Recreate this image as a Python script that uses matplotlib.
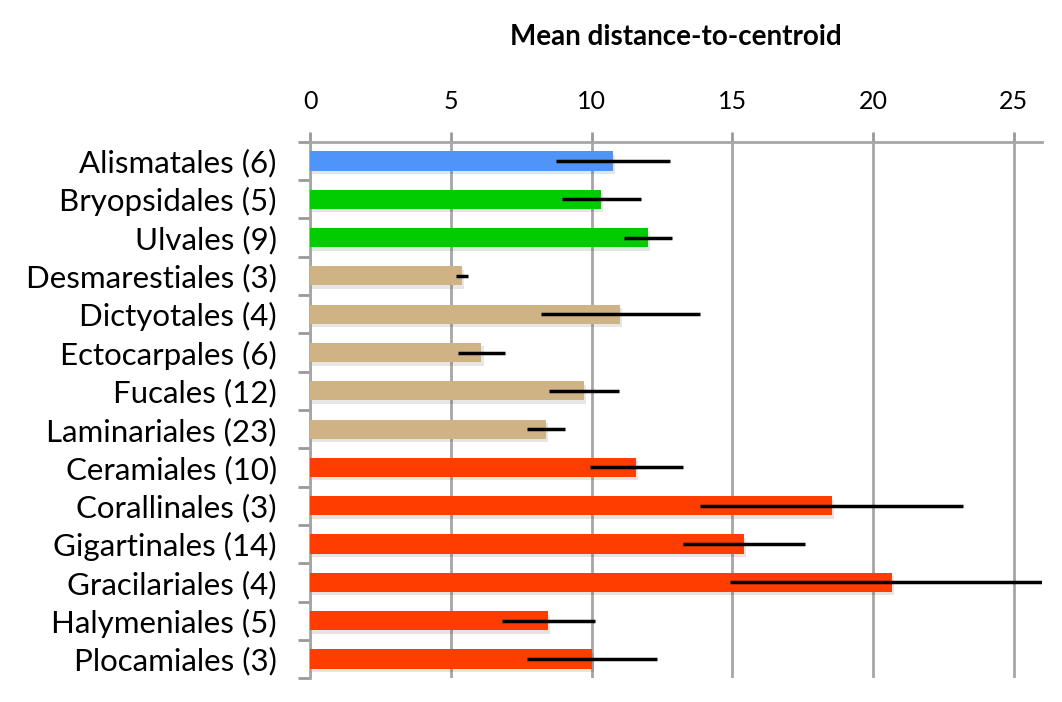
import matplotlib
matplotlib.use('Agg')
import matplotlib.pyplot as plt
import matplotlib.patheffects as pe
import numpy as np

# orders and sample counts, top to bottom
orders = ["Alismatales", "Bryopsidales", "Ulvales", "Desmarestiales", "Dictyotales",
          "Ectocarpales", "Fucales", "Laminariales", "Ceramiales", "Corallinales",
          "Gigartinales", "Gracilariales", "Halymeniales", "Plocamiales"]
counts = [6, 5, 9, 3, 4, 6, 12, 23, 10, 3, 14, 4, 5, 3]
mean_dist = [10.76, 10.35, 12.01, 5.39, 11.02, 6.09, 9.73, 8.39,
             11.59, 18.53, 15.42, 20.66, 8.46, 10.02]
err = [2.03, 1.40, 0.85, 0.22, 2.83, 0.82, 1.25, 0.68,
       1.65, 4.67, 2.16, 5.75, 1.65, 2.30]
groups = ["seagrass", "green", "green", "brown", "brown", "brown", "brown", "brown",
          "red", "red", "red", "red", "red", "red"]
group_colors = {"seagrass": "#4f94f8", "green": "#00cc00",
                "brown": "#cfb384", "red": "#ff3d00"}

plt.rcParams['font.family'] = ['Lato', 'DejaVu Sans']

fig = plt.figure(figsize=(10.62, 7.02), dpi=100)
ax = fig.add_axes([0.292, 0.034, 0.689, 0.764])

y = np.arange(len(orders))
colors = [group_colors[g] for g in groups]
bars = ax.barh(y, mean_dist, height=0.5, color=colors, zorder=3)
for b in bars:
    b.set_path_effects([pe.SimplePatchShadow(offset=(1.5, -2.5), alpha=0.12), pe.Normal()])
ax.errorbar(mean_dist, y, xerr=err, fmt='none', ecolor='black', elinewidth=2.5,
            capsize=0, zorder=4)

ax.set_ylim(len(orders) - 0.5, -0.5)
ax.set_xlim(0, 26)
ax.set_xticks([0, 5, 10, 15, 20, 25])
ax.xaxis.tick_top()
ax.xaxis.set_label_position('top')
ax.set_xlabel("Mean distance-to-centroid", fontsize=20, fontweight='bold', labelpad=32)
ax.tick_params(axis='x', direction='out', length=7, width=2, color='#999999',
               labelsize=18, pad=14)

ax.set_yticks(y)
ax.set_yticklabels([f"{o} ({n})" for o, n in zip(orders, counts)], fontsize=22.5)
ax.set_yticks(np.arange(-0.5, len(orders)), minor=True)
ax.tick_params(axis='y', which='major', length=0, pad=24)
ax.tick_params(axis='y', which='minor', direction='out', length=9, width=2, color='#999999')

ax.grid(axis='x', color='#a6a6a6', linewidth=2, zorder=0)
for side in ['right', 'bottom']:
    ax.spines[side].set_visible(False)
for side in ['top', 'left']:
    ax.spines[side].set_color('#a6a6a6')
    ax.spines[side].set_linewidth(2)

fig.savefig("out.png", dpi=100)
